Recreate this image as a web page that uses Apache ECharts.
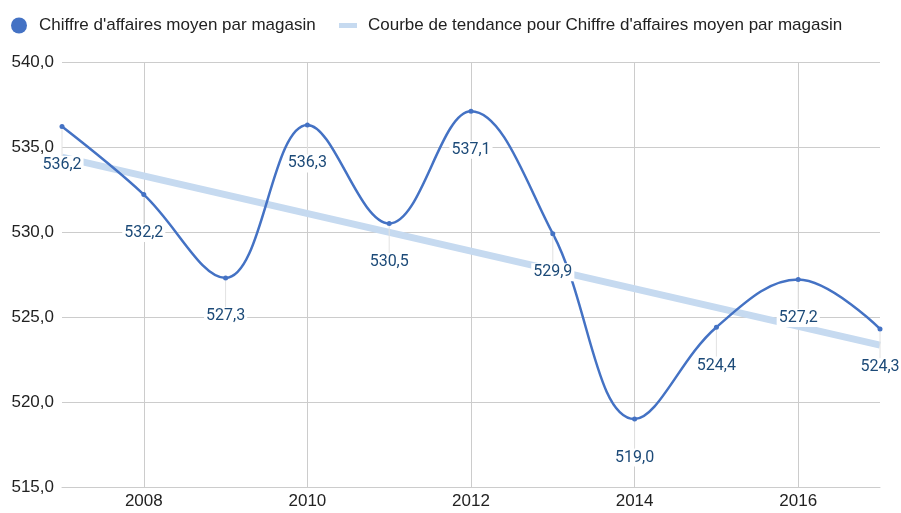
<!DOCTYPE html>
<html>
<head>
<meta charset="utf-8">
<style>
  html, body { margin: 0; padding: 0; background: #fff; }
  #chart { width: 901px; height: 513px; }
</style>
<script src="https://cdn.jsdelivr.net/npm/echarts@6/dist/echarts.min.js"></script>
</head>
<body>
<div id="chart"></div>
<script>
// Données
const years = ['2007', '2008', '2009', '2010', '2011', '2012', '2013', '2014', '2015', '2016', '2017'];
const salesAvg = [536.2, 532.2, 527.3, 536.3, 530.5, 537.1, 529.9, 519.0, 524.4, 527.2, 524.3];
// courbe de tendance : deux extrémités
const trendPoints = [['2007', 534.4], ['2017', 523.35]];

const mainName = "Chiffre d'affaires moyen par magasin";
const trendName = "Courbe de tendance pour Chiffre d'affaires moyen par magasin";

const fmt = v => v.toFixed(1).replace('.', ',');
const evenYear = i => i % 2 === 1;

const chart = echarts.init(document.getElementById('chart'));

const option = {
  animation: false,
  backgroundColor: '#fff',
  legend: [
    {
      data: [mainName],
      left: 6,
      top: 12,
      icon: 'circle',
      itemWidth: 16,
      itemHeight: 16,
      textStyle: { fontFamily: 'Liberation Sans', fontSize: 17, color: '#222', padding: [0, 0, 0, 7] }
    },
    {
      data: [trendName],
      left: 334,
      top: 12,
      icon: 'rect',
      itemWidth: 18,
      itemHeight: 5,
      textStyle: { fontFamily: 'Liberation Sans', fontSize: 17, color: '#222', padding: [0, 0, 0, 6] }
    }
  ],
  grid: { left: 62, right: 21, top: 62, bottom: 26, containLabel: false },
  xAxis: {
    type: 'category',
    data: years,
    boundaryGap: false,
    axisTick: { show: false },
    axisLine: { lineStyle: { color: '#cccccc' } },
    axisLabel: {
      interval: evenYear,
      margin: 6,
      color: '#222',
      fontFamily: 'Liberation Sans',
      fontSize: 17
    },
    splitLine: { show: true, interval: evenYear, lineStyle: { color: '#cccccc' } }
  },
  yAxis: {
    type: 'value',
    min: 515,
    max: 540,
    interval: 5,
    axisLine: { show: false },
    axisTick: { show: false },
    axisLabel: {
      formatter: fmt,
      margin: 8,
      color: '#222',
      fontFamily: 'Liberation Sans',
      fontSize: 17
    },
    splitLine: { lineStyle: { color: '#cccccc' } }
  },
  series: [
    {
      name: trendName,
      type: 'line',
      data: trendPoints,
      symbol: 'none',
      z: 1,
      color: '#c6daf0',
      lineStyle: { width: 7, color: '#c6daf0' }
    },
    {
      name: mainName,
      type: 'line',
      data: salesAvg,
      smooth: 0.38,
      symbol: 'circle',
      symbolSize: 5,
      z: 3,
      color: '#4472c4',
      lineStyle: { width: 2.5, color: '#4472c4' },
      label: {
        show: true,
        position: 'bottom',
        distance: 4,
        formatter: p => fmt(p.value),
        color: '#1c4a78',
        fontFamily: 'Roboto',
        fontSize: 16,
        backgroundColor: '#fff',
        padding: [1, 2]
      },
      labelLayout: { dy: 23 },
      labelLine: { show: true, lineStyle: { color: '#e2e2e2', width: 1 } }
    }
  ]
};

chart.setOption(option);
</script>
</body>
</html>
